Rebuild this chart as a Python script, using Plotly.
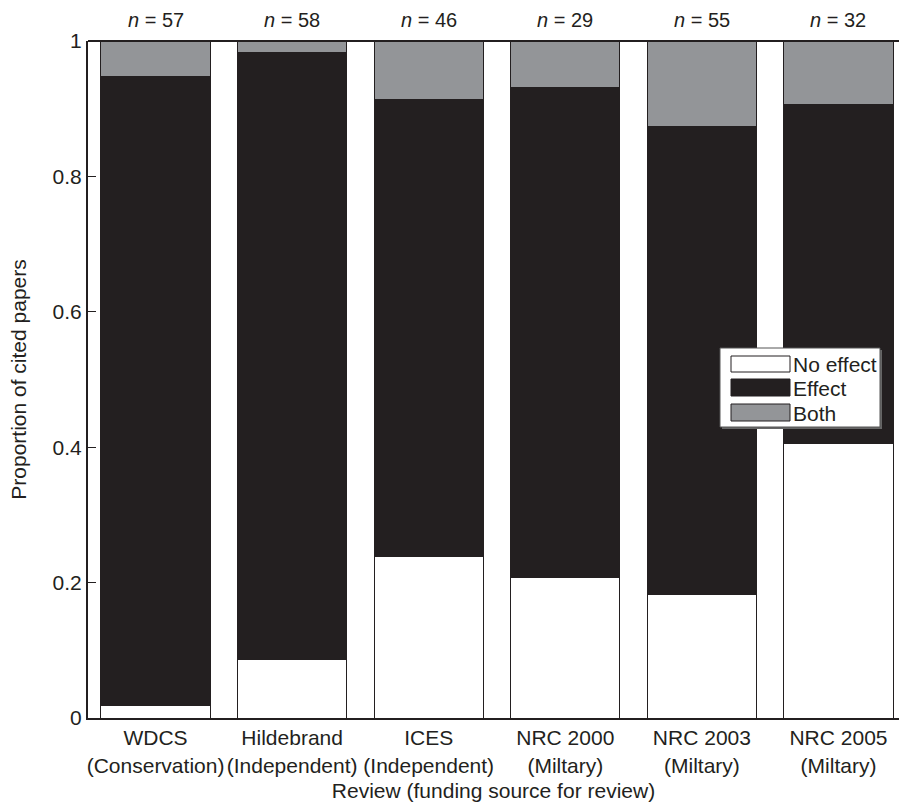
import plotly.graph_objects as go

reviews = ["WDCS", "Hildebrand", "ICES", "NRC 2000", "NRC 2003", "NRC 2005"]
funding = ["Conservation", "Independent", "Independent", "Miltary", "Miltary", "Miltary"]
n_papers = [57, 58, 46, 29, 55, 32]
no_effect = [0.018, 0.086, 0.239, 0.207, 0.182, 0.406]
effect = [0.930, 0.897, 0.674, 0.724, 0.691, 0.500]
both = [0.052, 0.017, 0.087, 0.069, 0.127, 0.094]
y_ticks = [0, 0.2, 0.4, 0.6, 0.8, 1]
y_tick_labels = ["0", "0.2", "0.4", "0.6", "0.8", "1"]

DARK = "#231f20"
GREY = "#939598"
FONT = "Liberation Sans, Arial, sans-serif"

xs = list(range(len(reviews)))
fig = go.Figure()
for name, vals, col in [("No effect", no_effect, "white"), ("Effect", effect, DARK), ("Both", both, GREY)]:
    fig.add_trace(go.Bar(x=xs, y=vals, name=name, width=0.8,
                         marker=dict(color=col, line=dict(color=DARK, width=1)),
                         showlegend=False))

for i, n in enumerate(n_papers):
    fig.add_annotation(x=i, y=1, xref="x", yref="y", text=f"<i>n</i> = {n}",
                       showarrow=False, yanchor="bottom", yshift=8,
                       font=dict(size=20, color=DARK, family=FONT))

W, H = 899, 810
L, R, T, B = 88, 0, 41, 92
pw, ph = W - L - R, H - T - B
def px(x): return (x - L) / pw
def py(y): return (H - B - y) / ph

shapes = []
# top frame line
shapes.append(dict(type="line", xref="paper", yref="paper", x0=0, x1=1, y0=1, y1=1,
                   line=dict(color=DARK, width=2)))
# legend box shadow and box
shapes.append(dict(type="rect", xref="paper", yref="paper", x0=px(722), x1=px(882), y0=py(429), y1=py(350),
                   fillcolor="#666666", line=dict(width=0)))
shapes.append(dict(type="rect", xref="paper", yref="paper", x0=px(720), x1=px(880), y0=py(427), y1=py(348),
                   fillcolor="white", line=dict(color="#555555", width=1)))
legend_items = [("No effect", "white", 356, 372), ("Effect", DARK, 379, 396), ("Both", GREY, 404, 421)]
for name, col, y0, y1 in legend_items:
    shapes.append(dict(type="rect", xref="paper", yref="paper", x0=px(731), x1=px(790), y0=py(y1), y1=py(y0),
                       fillcolor=col, line=dict(color=DARK, width=1)))
    fig.add_annotation(xref="paper", yref="paper", x=px(791), y=py((y0 + y1) / 2 + 1), text=name,
                       showarrow=False, xanchor="left", yanchor="middle",
                       font=dict(size=21, color=DARK, family=FONT))

fig.update_layout(
    width=W, height=H, margin=dict(l=L, r=R, t=T, b=B, autoexpand=False),
    barmode="stack", bargap=0.2,
    plot_bgcolor="white", paper_bgcolor="white",
    font=dict(family=FONT, size=21, color=DARK),
    shapes=shapes,
    xaxis=dict(range=[-0.4945, 5.443], tickvals=xs, automargin=False,
               ticktext=[f"{r}<br>({f})" for r, f in zip(reviews, funding)],
               showline=True, linecolor=DARK, linewidth=2, ticks="", showgrid=False, zeroline=False,
               tickfont=dict(size=21, color=DARK),
               title=dict(text="Review (funding source for review)", font=dict(size=21, color=DARK), standoff=8)),
    yaxis=dict(range=[0, 1], tickvals=y_ticks, ticktext=y_tick_labels, automargin=False,
               showline=True, linecolor=DARK, linewidth=2, ticks="inside", ticklen=8, tickcolor=DARK,
               showgrid=False, zeroline=False, tickfont=dict(size=21, color=DARK),
               title=dict(text="Proportion of cited papers", font=dict(size=21, color=DARK), standoff=20)),
)

fig.write_html("out.html", config={"displayModeBar": False},
               post_script="document.body.style.margin='0';document.body.style.overflow='hidden';")
